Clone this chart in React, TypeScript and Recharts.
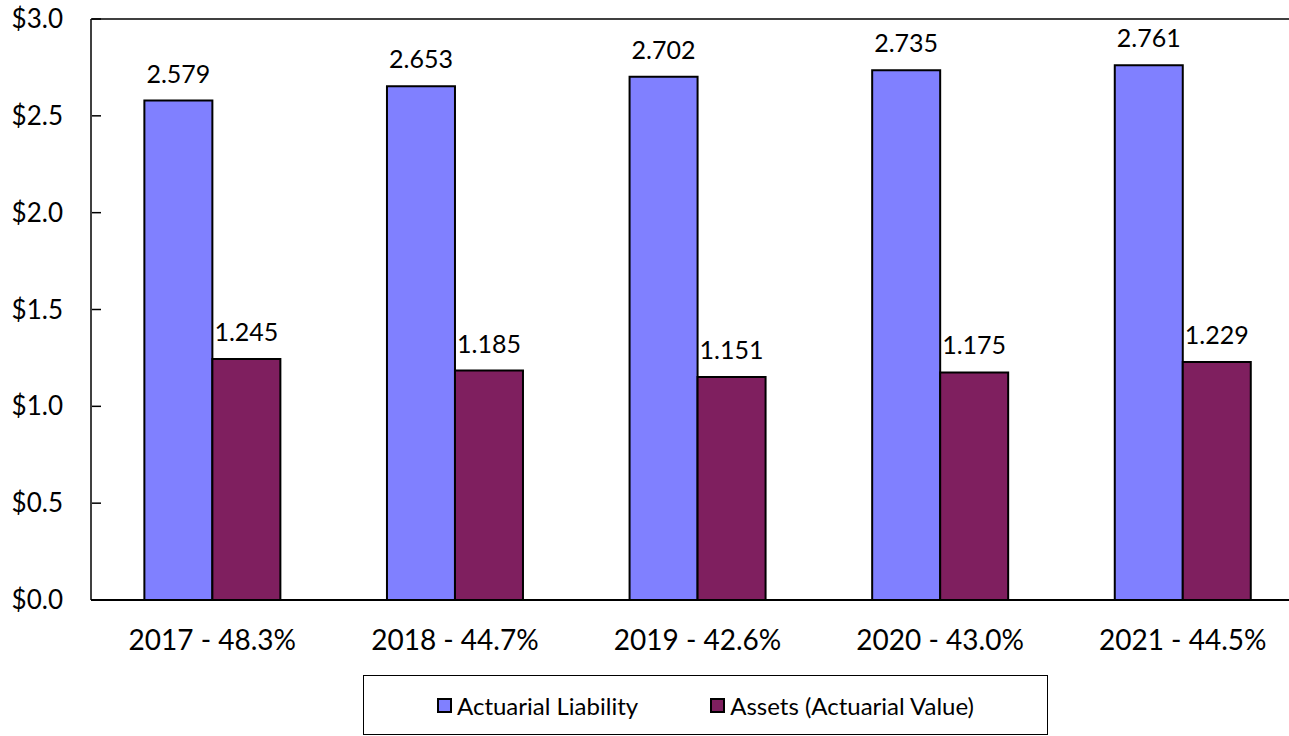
import { Bar, BarChart, LabelList, ReferenceLine, XAxis, YAxis } from "recharts";

const categories = ["2017 - 48.3%", "2018 - 44.7%", "2019 - 42.6%", "2020 - 43.0%", "2021 - 44.5%"];
const liability = [2.579, 2.653, 2.702, 2.735, 2.761];
const assets = [1.245, 1.185, 1.151, 1.175, 1.229];
const yTicks = [0, 0.5, 1, 1.5, 2, 2.5, 3];

const BLUE = "#8080FF";
const PURPLE = "#7F1F5F";
const FONT = "Lato, 'Open Sans', sans-serif";

const data = categories.map((c, i) => ({ cat: c, liability: liability[i], assets: assets[i] }));

function YTick(props: any) {
  const { x, y, payload } = props;
  return (
    <g>
      <line x1={x + 29} x2={x + 38} y1={y} y2={y} stroke="#000" strokeWidth={1.5} />
      <text x={x} y={y} dy={9} textAnchor="end" fontSize={26} fill="#000" fontFamily={FONT}>
        ${payload.value.toFixed(1)}
      </text>
    </g>
  );
}

function LegendBox() {
  const items = [
    { name: "Actuarial Liability", color: BLUE },
    { name: "Assets (Actuarial Value)", color: PURPLE },
  ];
  return (
    <div
      style={{
        position: "absolute",
        left: 363,
        top: 675,
        width: 685,
        height: 60,
        boxSizing: "border-box",
        border: "1.5px solid #000",
        display: "flex",
        alignItems: "center",
        justifyContent: "flex-start",
        paddingLeft: 73,
        gap: 72,
        fontFamily: FONT,
        fontSize: 24,
        color: "#000",
      }}
    >
      {items.map((it) => (
        <span key={it.name} style={{ display: "flex", alignItems: "center" }}>
          <span
            style={{
              display: "inline-block",
              width: 11,
              height: 11,
              background: it.color,
              border: "2.5px solid #000",
              marginRight: 5,
            }}
          />
          {it.name}
        </span>
      ))}
    </div>
  );
}

export default function App() {
  return (
    <div style={{ position: "absolute", left: 0, top: 0, width: 1289, height: 736, background: "#fff", overflow: "hidden" }}>
      <BarChart
        width={1289}
        height={736}
        data={data}
        margin={{ top: 19, right: -15, bottom: 135, left: 0 }}
        barGap={0}
        barCategoryGap="22%"
      >
        <XAxis
          dataKey="cat"
          tickLine={false}
          tickSize={0}
          tickMargin={30}
          axisLine={{ stroke: "#000", strokeWidth: 2 }}
          tick={{ fontSize: 28, fill: "#000", fontFamily: FONT }}
          interval={0}
          height={1}
        />
        <YAxis
          domain={[0, 3]}
          ticks={yTicks}
          width={91}
          tickLine={false}
          tickSize={0}
          tickMargin={28}
          axisLine={{ stroke: "#000", strokeWidth: 1.5 }}
          tick={<YTick />}
        />
        <ReferenceLine y={3} stroke="#000" strokeWidth={1.5} />
        <Bar dataKey="liability" name="Actuarial Liability" fill={BLUE} stroke="#000" strokeWidth={2} isAnimationActive={false}>
          <LabelList
            dataKey="liability"
            position="top"
            offset={18}
            formatter={(v: any) => Number(v).toFixed(3)}
            style={{ fontSize: 25, fill: "#000", fontFamily: FONT }}
          />
        </Bar>
        <Bar dataKey="assets" name="Assets (Actuarial Value)" fill={PURPLE} stroke="#000" strokeWidth={2} isAnimationActive={false}>
          <LabelList
            dataKey="assets"
            position="top"
            offset={18}
            formatter={(v: any) => Number(v).toFixed(3)}
            style={{ fontSize: 25, fill: "#000", fontFamily: FONT }}
          />
        </Bar>
      </BarChart>
      <LegendBox />
    </div>
  );
}
